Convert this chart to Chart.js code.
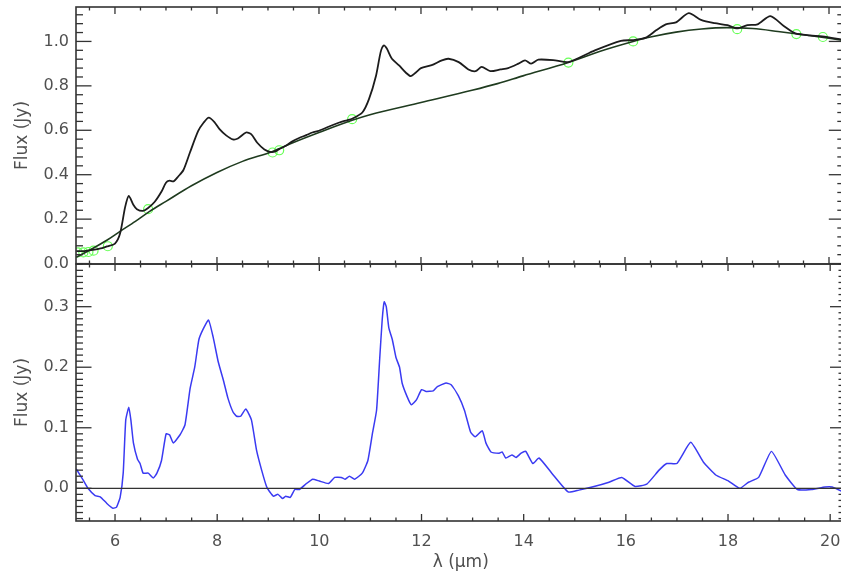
<!DOCTYPE html>
<html>
<head>
<meta charset="utf-8">
<script src="https://cdn.jsdelivr.net/npm/chart.js@4.4.1/dist/chart.umd.min.js"></script>
<style>
  html, body { margin:0; padding:0; background:#fff; }
  #wrap { position:relative; width:841px; height:579px; overflow:hidden; }
  #wrap canvas { position:absolute; left:0; top:0; }
</style>
</head>
<body>
<div id="wrap">
  <canvas id="top" width="850" height="579"></canvas>
  <canvas id="bot" width="850" height="579"></canvas>
</div>
<script>
// wavelength range (micron) and tick values
const X_MIN = 5.236, X_MAX = 20.30;
const xTicks = [6, 8, 10, 12, 14, 16, 18, 20];
const topYTicks = [0, 0.2, 0.4, 0.6, 0.8, 1.0];
const botYTicks = [0, 0.1, 0.2, 0.3];

// observed spectrum (black)
const specLam = [5.24,5.4,5.57,5.75,5.84,6.0,6.1,6.2,6.27,6.36,6.43,6.55,6.65,6.78,6.91,7.0,7.07,7.15,7.24,7.34,
  7.47,7.63,7.74,7.84,7.95,8.05,8.18,8.31,8.41,8.57,8.67,8.79,8.93,9.06,9.15,9.22,9.35,9.48,9.61,9.75,
  9.87,10.0,10.2,10.4,10.55,10.65,10.85,10.98,11.12,11.21,11.27,11.33,11.43,11.57,11.7,11.8,11.9,12.0,12.21,12.41,
  12.54,12.74,12.93,13.07,13.19,13.36,13.56,13.71,13.91,14.04,14.16,14.3,14.63,14.89,15.41,15.92,16.16,16.41,16.61,16.8,
  17.0,17.25,17.49,17.76,18.01,18.2,18.4,18.6,18.85,19.12,19.34,19.63,19.87,20.25];
const specFlux = [0.056,0.056,0.062,0.07,0.077,0.09,0.135,0.255,0.305,0.265,0.245,0.237,0.25,0.278,0.323,0.364,0.373,0.37,0.392,0.42,
  0.5,0.596,0.635,0.657,0.637,0.605,0.577,0.559,0.563,0.59,0.583,0.544,0.514,0.502,0.505,0.515,0.53,0.55,0.565,0.578,
  0.59,0.598,0.617,0.635,0.645,0.652,0.68,0.74,0.847,0.953,0.982,0.968,0.922,0.892,0.86,0.844,0.86,0.88,0.893,0.915,
  0.922,0.907,0.874,0.866,0.885,0.866,0.874,0.88,0.9,0.915,0.9,0.918,0.915,0.907,0.96,1.003,1.006,1.017,1.05,1.077,
  1.086,1.127,1.097,1.082,1.073,1.059,1.073,1.077,1.114,1.068,1.036,1.027,1.023,1.008];

// fitted continuum
const contLam  = [5.24,5.5,5.84,6.1,6.4,6.68,7.0,7.5,8.0,8.5,9.09,9.5,10.0,10.65,11.0,12.0,13.0,13.5,14.0,14.89,
  15.5,16.16,16.5,17.0,17.5,18.0,18.5,19.0,19.5,20.25];
const contFlux = [0.028,0.06,0.105,0.145,0.19,0.235,0.28,0.35,0.41,0.46,0.505,0.545,0.59,0.645,0.67,0.725,0.78,0.81,0.845,0.905,
  0.955,1.0,1.02,1.042,1.056,1.062,1.058,1.045,1.03,1.006];

// continuum anchor points (green circles)
const anchorLam  = [5.27,5.38,5.48,5.58,5.86,6.65,9.09,9.22,10.65,14.89,16.16,18.2,19.36,19.88];
const anchorFlux = [0.05,0.05,0.052,0.058,0.078,0.245,0.50,0.51,0.65,0.905,1.0,1.055,1.033,1.02];

// continuum-subtracted residual (blue)
const residLam = [5.24,5.38,5.47,5.61,5.71,5.84,5.96,6.03,6.1,6.16,6.21,6.27,6.31,6.36,6.44,6.49,6.55,6.65,6.75,6.82,
  6.91,7.0,7.07,7.14,7.27,7.37,7.47,7.56,7.64,7.72,7.83,7.92,8.02,8.12,8.21,8.31,8.38,8.46,8.56,8.67,
  8.77,8.87,8.97,9.03,9.1,9.19,9.28,9.34,9.43,9.52,9.61,9.75,9.87,10.0,10.18,10.3,10.43,10.5,10.59,10.69,
  10.84,10.95,11.04,11.12,11.18,11.23,11.27,11.31,11.36,11.43,11.5,11.57,11.62,11.72,11.8,11.9,12.0,12.09,12.23,12.31,
  12.48,12.58,12.72,12.84,12.96,13.05,13.19,13.26,13.36,13.52,13.58,13.65,13.77,13.85,13.95,14.04,14.18,14.3,14.55,14.87,
  15.08,15.34,15.67,15.92,16.18,16.41,16.65,16.8,17.0,17.27,17.52,17.76,18.01,18.23,18.4,18.6,18.85,19.12,19.36,19.63,
  19.9,20.04,20.25];
const residFlux = [0.032,0.013,0.0,-0.012,-0.014,-0.025,-0.033,-0.031,-0.015,0.025,0.113,0.134,0.113,0.075,0.048,0.041,0.025,0.025,0.017,0.025,
  0.046,0.09,0.088,0.075,0.088,0.105,0.165,0.2,0.245,0.262,0.278,0.25,0.209,0.179,0.149,0.126,0.119,0.119,0.131,0.113,
  0.063,0.03,0.002,-0.006,-0.013,-0.01,-0.017,-0.013,-0.015,-0.002,-0.002,0.008,0.015,0.012,0.008,0.018,0.018,0.015,0.02,0.015,
  0.025,0.046,0.091,0.129,0.212,0.278,0.308,0.3,0.265,0.245,0.216,0.2,0.174,0.151,0.138,0.146,0.163,0.16,0.161,0.168,
  0.174,0.171,0.153,0.129,0.093,0.085,0.095,0.075,0.06,0.058,0.06,0.05,0.055,0.051,0.058,0.061,0.041,0.05,0.025,-0.006,
  -0.003,0.002,0.01,0.018,0.003,0.007,0.03,0.041,0.041,0.076,0.043,0.022,0.012,0.0,0.01,0.018,0.061,0.022,-0.002,-0.002,
  0.002,0.002,-0.006];

const pts = (xs, ys) => xs.map((x, i) => ({ x, y: ys[i] }));

const FONT = { family: 'DejaVu Sans', size: 16 };
const TITLE_FONT = { family: 'DejaVu Sans', size: 17 };
const TEXT = '#505050';
const AXIS = '#333';

// no label overhang padding, the panels are placed by layout padding only
const noPad = s => { s.paddingTop = 0; s.paddingBottom = 0; s.paddingLeft = 0; s.paddingRight = 0; };

// IDL style box with inward major/minor ticks on all four sides
const frameTicks = {
  id: 'frameTicks',
  afterDatasetsDraw(chart, args, o) {
    const { ctx, chartArea: a, scales: { x, y } } = chart;
    const line = (x1, y1, x2, y2) => { ctx.beginPath(); ctx.moveTo(x1, y1); ctx.lineTo(x2, y2); ctx.stroke(); };
    const near = (list, v) => list.some(t => Math.abs(t - v) < 1e-6);
    ctx.save();
    ctx.strokeStyle = AXIS;
    ctx.lineWidth = 1.6;
    ctx.strokeRect(a.left, a.top, a.width, a.height);
    ctx.lineWidth = 1.3;
    for (let i = Math.ceil(x.min / 0.5); i * 0.5 <= x.max; i++) {
      const v = i * 0.5, px = x.getPixelForValue(v);
      const len = near(xTicks, v) ? 7 : 3.5;
      line(px, a.bottom, px, a.bottom - len);
      line(px, a.top, px, a.top + len);
    }
    const step = o.yMinor;
    for (let i = Math.ceil(y.min / step - 1e-9); i * step <= y.max + 1e-9; i++) {
      const v = i * step, py = y.getPixelForValue(v);
      const len = near(o.yMajor, v) ? 15.5 : 7;
      line(a.left, py, a.left + len, py);
      line(a.right, py, a.right - len, py);
    }
    ctx.restore();
  }
};

function yScale(min, max, ticks) {
  return {
    type: 'linear', min, max,
    afterFit: s => { s.width = 76; noPad(s); },
    afterBuildTicks: s => { s.ticks = ticks.map(v => ({ value: v })); },
    grid: { display: false, drawTicks: false },
    border: { display: false },
    ticks: { padding: 7, font: FONT, color: TEXT, callback: v => v.toFixed(1) },
    title: { display: true, text: 'Flux (Jy)', font: TITLE_FONT, color: TEXT, padding: { top: 12 } }
  };
}

const base = {
  responsive: false,
  animation: false,
  devicePixelRatio: 1,
  plugins: { legend: { display: false }, tooltip: { enabled: false } }
};

new Chart(document.getElementById('top'), {
  type: 'line',
  data: {
    datasets: [
      { data: pts(specLam, specFlux), borderColor: '#1c1c1c', borderWidth: 1.8, pointRadius: 0, tension: 0.25 },
      { data: pts(contLam, contFlux), borderColor: '#1f3b1f', borderWidth: 1.6, pointRadius: 0, cubicInterpolationMode: 'monotone' },
      { data: pts(anchorLam, anchorFlux), showLine: false, pointRadius: 4.5, pointBorderWidth: 1.2,
        pointBorderColor: '#66ff55', pointBackgroundColor: 'rgba(0,0,0,0)' }
    ]
  },
  options: {
    ...base,
    layout: { padding: { top: 7, bottom: 315, left: 0, right: 4.5 } },
    plugins: { ...base.plugins, frameTicks: { yMinor: 0.04, yMajor: topYTicks } },
    scales: {
      x: { type: 'linear', min: X_MIN, max: X_MAX, display: false },
      y: yScale(-0.002, 1.155, topYTicks)
    }
  },
  plugins: [frameTicks]
});

new Chart(document.getElementById('bot'), {
  type: 'line',
  data: {
    datasets: [
      { data: pts([X_MIN, X_MAX], [0, 0]), borderColor: '#333', borderWidth: 1.3, pointRadius: 0 },
      { data: pts(residLam, residFlux), borderColor: '#3a3af2', borderWidth: 1.5, pointRadius: 0, tension: 0.15 }
    ]
  },
  options: {
    ...base,
    layout: { padding: { top: 264, bottom: 0, left: 0, right: 4.5 } },
    plugins: { ...base.plugins, frameTicks: { yMinor: 0.01, yMajor: botYTicks } },
    scales: {
      x: {
        type: 'linear', min: X_MIN, max: X_MAX,
        afterFit: s => { s.height = 58; noPad(s); },
        afterBuildTicks: s => { s.ticks = xTicks.map(v => ({ value: v })); },
        grid: { display: false, drawTicks: false },
        border: { display: false },
        ticks: { padding: 11, font: FONT, color: TEXT, maxRotation: 0, autoSkip: false, callback: v => String(v) },
        title: { display: true, text: 'λ (μm)', font: TITLE_FONT, color: TEXT, padding: { bottom: 6 } }
      },
      y: yScale(-0.054, 0.3705, botYTicks)
    }
  },
  plugins: [frameTicks]
});
</script>
</body>
</html>
